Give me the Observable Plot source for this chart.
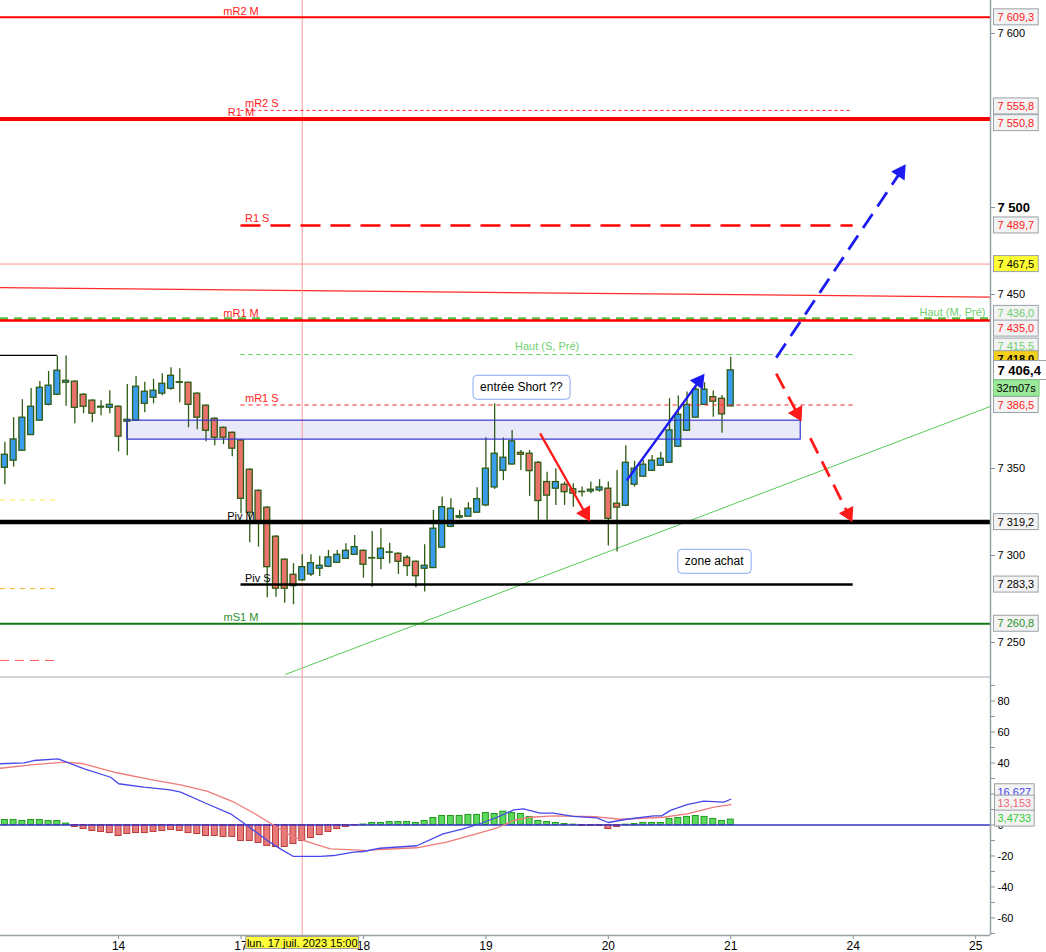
<!DOCTYPE html>
<html>
<head>
<meta charset="utf-8">
<script src="https://cdn.jsdelivr.net/npm/d3@7"></script>
<script src="https://cdn.jsdelivr.net/npm/@observablehq/plot@0.6"></script>
<style>
  body { margin: 0; background: #fff; }
  #chart svg { display: block; }
</style>
</head>
<body>
<div id="chart"></div>
<script>
// candles, one per hour, index 0 = 14 juil. 8:00
const first = -13
const opens  = [7350.4,7354.5,7360.2,7369.2,7377.5,7386.6,7392.4,7399.3,7399.9,7392.4,7389,7385.5,7384.9,
  7385.5,7376.9,7377.5,7387.2,7390.7,7393,7395.8,7399.6,7399.3,7393,7386.1,7378.6,7373.4,7370.5,
  7366.1,7349.3,7337.2,7327.5,7310.8,7297.6,7288.9,7285.7,7289.1,7292.4,7293.5,7295.8,7298.1,7300.4,
  7302.7,7298.5,7298.1,7301.8,7301,7298.7,7296.4,7292.4,7292.8,7304.5,7316.5,7321.7,7322.3,7324.6,
  7328.8,7339.1,7348.7,7352.3,7359,7358.5,7353.3,7342.2,7338.4,7340.7,7338.1,7336.4,7336.8,7337.4,
  7338.4,7329.8,7328.6,7340.7,7345.3,7348.7,7351.6,7353.3,7362.5,7371.7,7379.2,7386.6,7391,7390.1,
  7385.7]
const highs  = [7365.1,7379.2,7389.5,7396,7400,7405.8,7414.6,7414.6,7400.5,7393,7389.5,7389,7394.7,
  7386,7398.3,7402.9,7399.5,7401.2,7404.5,7407.9,7407.3,7399.5,7393.5,7386.5,7379,7373.8,7371,
  7366.5,7349.8,7337.6,7328,7311.5,7298,7295.3,7300.4,7300.4,7299.5,7302.9,7302.9,7306.8,7311.5,
  7303.2,7313.8,7315.4,7307.1,7301.5,7300,7296.8,7306.2,7325.9,7333.6,7332.6,7325.9,7330.3,7339,
  7367.7,7387.2,7367.5,7371.9,7360.4,7360.4,7354,7347.9,7349.9,7342.2,7341.2,7339.3,7342.2,7343.6,
  7342.2,7348.9,7363.1,7354.2,7354.6,7357.5,7359.4,7390.1,7391.6,7393.9,7396.8,7399.3,7394.5,7392,
  7414]
const lows   = [7340.6,7350.8,7360.2,7369,7377,7386,7392,7385.8,7375.7,7381.5,7376.3,7380.3,7381.5,
  7359.6,7357.3,7377,7382,7387.2,7391.8,7395,7387.8,7373.4,7372.3,7365.4,7363.1,7363.7,7356.8,
  7324,7307.3,7304.8,7275.7,7276,7272.6,7271.7,7285,7288,7288,7293,7295.5,7297.8,7300,
  7287,7281.8,7291.8,7295.3,7289.1,7288,7281.5,7279,7292.5,7304,7316,7321,7322,7324.3,
  7328,7338,7343,7352,7348.9,7334,7320.2,7320.2,7328.8,7328.8,7327.8,7333.6,7335.5,7336.4,
  7305.4,7302,7328,7339.3,7345,7348.5,7351.3,7353,7362,7371.3,7379,7386.3,7379.5,7370.3,
  7385.5]
const closes = [7357.9,7366.7,7379.2,7385.5,7396.4,7397.6,7406.2,7400.4,7384.9,7385.5,7381.5,7385,7386.6,
  7368.3,7378,7397,7394.1,7394.7,7398.7,7403.3,7399.3,7386.6,7379.2,7371.7,7367.7,7367.7,7361.4,
  7332.6,7324.6,7319.2,7293.3,7280.9,7280.9,7282.4,7293.3,7295.6,7294.1,7298.9,7300.4,7302.7,7304.8,
  7294.7,7298.3,7303.9,7301.6,7296.4,7293.9,7288.1,7294.1,7315.4,7327.8,7326.9,7322.6,7326.9,7332.4,
  7349.9,7358.5,7356.2,7365.6,7357.9,7348.5,7331.3,7334.4,7342.2,7336.4,7335.5,7336.6,7337.8,7339.1,
  7321.1,7327.5,7353.3,7349.9,7352.2,7354.5,7355.6,7371.9,7380.9,7386.6,7395.3,7395.3,7388.4,7381.1,
  7406.4]

// MACD histogram, one per candle
const macdHist = [3.2,3.2,2.6,3.2,3.2,2.6,2.6,0.9,-1.3,-2.6,-3.9,-4.5,-5.2,
  -7.1,-5.8,-5.2,-5.2,-4.5,-3.9,-3.2,-3.9,-5.2,-5.8,-7.1,-7.1,-7.7,-7.7,
  -10.3,-10.3,-11.6,-13.5,-14.2,-14.2,-12.3,-10.3,-8.4,-6.5,-4.5,-2.6,-1.3,-0.3,
  0.3,1.3,1.3,1.9,1.9,1.9,1.3,2.6,4.5,5.8,5.8,5.8,6.5,6.5,
  7.7,7.1,8.6,7.7,7.1,5.2,2.6,1.9,1.3,0.6,0.2,-0.6,-0.6,-0.6,
  -2.6,-1.3,0.2,0.6,1.3,1.3,1.3,3.9,4.5,5.2,5.8,5.2,3.9,2.6,
  3.47]
const macdLine = [[-13.5,39.5],[-10.8,40.1],[-9.7,41.6],[-6.9,42.7],[-4,36.3],[-0.9,30.8],[0,26.6],
  [2.9,24.4],[5.9,22.7],[7.1,21.2],[10.1,13.7],[12.8,7.2],[14.7,-0.3],[17,-10],[18.5,-15.4],
  [20,-20.3],[23.1,-20.3],[24.6,-19.7],[26.9,-17.5],[28,-17.1],[29.9,-15],[34.1,-13.4],[37.1,-5.7],
  [39.4,-2.5],[41.3,0.8],[43.3,5],[45.2,9.8],[46.3,10.4],[48.2,7.6],[49.7,7.6],[52,5.5],[54.7,4.6],
  [56,1.6],[58.1,3.7],[61.2,5.9],[62.1,5.9],[63.1,9.4],[65,13.2],[66.9,15.4],[69.2,14.7],[70,16.6]]
const signalLine = [[-13.5,36.6],[-9.7,39],[-6.1,40.5],[-4,39.5],[-0.2,33.7],[3.7,29.2],[7.1,25.9],
  [10.1,21.8],[13.2,14.7],[15.5,7.6],[17.8,-0.3],[20,-7.9],[22.3,-12.1],[24.2,-15.4],[26.9,-16],
  [28.4,-16.5],[29.9,-15.8],[34.1,-14.7],[37.5,-11.1],[40.5,-6.3],[43.3,-1.8],[45.2,2.9],[47.1,5],
  [49.7,5.9],[54.7,5.3],[57.4,3.7],[62.3,5],[65,7.2],[68.1,11.5],[70,13.2]]

// axes
const dayTicks = [0, 14, 28, 42, 56, 70, 84, 98]
const dayLabels = ["14", "17", "18", "19", "20", "21", "24", "25"]
const priceTicks = [7600, 7450, 7350, 7300, 7250]
const priceBold = [7500]
const macdTicks = [80, 60, 40, 0, -20, -40, -60]
const macdMinor = [90, 70, 50, 30, 20, 10, -10, -30, -50, -70]
const xView = [-13.5, 99.7]
const yPrice = [7230.46, 7618.97]
const yMacd = [-71.3, 95.8]

// pivot levels
const levelNames  = ["mR2 M", "mR2 S", "R1 M", "R1 S", "mR1 M", "mR1 S", "Piv M", "Piv S", "mS1 M", "Haut (M, Pré)", "Haut (S, Pré)"]
const levelValues = [7609.3, 7555.8, 7550.8, 7489.7, 7435.0, 7386.5, 7319.2, 7283.3, 7260.8, 7436.0, 7415.5]
const weekFrom = 14, weekTo = 84
const pinkLevel = 7467.5
const redTrend = [[-13.5, 7453.9], [99.7, 7448.5]]
const greenTrend = [[19.1, 7231.7], [99.7, 7385.7]]
const oldLevels = [7415, 7332, 7281, 7239.7]
const oldTo = -7
const zone = [{x1: 1, x2: 78, y1: 7366.6, y2: 7377.5}]
const crossI = 21
const crossLabel = "lun. 17 juil. 2023 15:00"

// arrows: from (i, price) to (i, price)
const solidArrows = [
  [48.2, 7370.2, 53.9, 7319.6],
  [58.1, 7343.1, 67.0, 7404.5]
]
const dashedArrows = [
  [75.2, 7413.7, 90.0, 7524.8],
  [75.2, 7404.5, 78.1, 7377.0],
  [79.1, 7367.5, 83.9, 7319.2]
]
const noteTexts = ["entrée Short ??", "zone achat"]
const noteX = [46.06, 68.1]
const noteY = [7396.6, 7296.6]

// right-hand value tags
const tagValues = [7609.3, 7555.8, 7550.8, 7489.7, 7467.5, 7436.0, 7435.0, 7415.5, 7418.0, 7406.4, 7386.5, 7319.2, 7283.3, 7260.8]
const timer = "32m07s"
const macdTagValues = [16.627, 13.153, 3.4733]
const macdTagTexts = ["16,627", "13,153", "3,4733"]

const W = 1046, MR = 56, H1 = 676, H2 = 276, MB2 = 17
const font = "'Liberation Sans', Arial, sans-serif"
const fmtPrice = v => d3.format(",.1f")(v).replace(",", " ").replace(".", ",")
const fmtInt = v => d3.format(",")(v).replace(",", " ")
const lv = Object.fromEntries(levelNames.map((n, k) => [n, levelValues[k]]))

const candles = opens.map((o, k) => ({i: first + k, open: o, high: highs[k], low: lows[k], close: closes[k]}))
const hist = macdHist.map((v, k) => ({i: first + k, v}))

// boxed text helper: the box is drawn behind each text after rendering
const boxes = []
function boxText(data, opts, box) {
  boxes.push(box)
  return Plot.text(data, {...opts, ariaDescription: "box" + (boxes.length - 1)})
}
function drawBoxes(svg) {
  boxes.forEach((b, k) => {
    svg.querySelectorAll(`g[aria-description="box${k}"] text`).forEach(t => {
      const bb = t.getBBox()
      const r = document.createElementNS("http://www.w3.org/2000/svg", "rect")
      r.setAttribute("x", bb.x - b.px)
      r.setAttribute("y", bb.y - b.py)
      r.setAttribute("width", bb.width + 2 * b.px + (b.extra || 0))
      r.setAttribute("height", bb.height + 2 * b.py)
      r.setAttribute("rx", b.rx || 0)
      r.setAttribute("fill", b.fill)
      r.setAttribute("stroke", b.stroke)
      r.setAttribute("stroke-width", 1)
      if (t.getAttribute("transform")) r.setAttribute("transform", t.getAttribute("transform"))
      t.parentNode.insertBefore(r, t)
    })
  })
}

// arrow heads as rotated triangles, placed in pixel space
const xs = d3.scaleLinear(xView, [0, W - MR])
const ys = d3.scaleLinear(yPrice, [H1, 0])
const headR = 6
const tipBack = 2 * Math.sqrt(Math.PI * headR * headR / (3 * Math.sqrt(3)))
const toRows = list => list.map(([x1, y1, x2, y2]) => {
  const dx = xs(x2) - xs(x1), dy = ys(y2) - ys(y1), len = Math.hypot(dx, dy)
  const ux = dx / len, uy = dy / len
  return {
    x1, y1, up: y2 > y1,
    hx: xs.invert(xs(x2) - ux * tipBack),
    hy: ys.invert(ys(y2) - uy * tipBack),
    rot: Math.atan2(ux, -uy) * 180 / Math.PI
  }
})
const solidRows = toRows(solidArrows)
const dashedRows = toRows(dashedArrows)
const arrowColor = d => d.up ? "#1c1cf0" : "#ff1a1a"

const tagText = {7406.4: "#000", 7467.5: "#000", 7418.0: "#000", 7319.2: "#000", 7283.3: "#000",
  7436.0: "#6fd06f", 7415.5: "#6fd06f", 7260.8: "#2b8f2b"}
const tagFill = {7467.5: "#ffff33", 7418.0: "#f5cf1a", 7406.4: "#ffffff"}
const tagDy = {7555.8: -4, 7550.8: 4, 7436.0: -5, 7435.0: 8, 7415.5: -8, 7418.0: 9}
const tagOrder = [7609.3, 7555.8, 7550.8, 7489.7, 7467.5, 7436.0, 7435.0, 7415.5, 7418.0, 7386.5, 7319.2, 7283.3, 7260.8, 7406.4]
  .filter(v => tagValues.includes(v))

const tagMarks = tagOrder.map(v => boxText([v], {
  y: d => d, text: fmtPrice, frameAnchor: "right", dx: 7, dy: tagDy[v] || 0, textAnchor: "start",
  fill: tagText[v] || "#ff1a1a", fontSize: v === 7406.4 ? 13 : 11,
  fontWeight: (v === 7406.4 || v === 7418.0) ? "bold" : "normal"
}, {px: 4, py: 2, fill: tagFill[v] || "#f3f3f3", stroke: "#98a2a8", extra: v === 7406.4 ? 6 : 0}))

const levelLabel = (name, opts) => Plot.text([name], {
  x: weekFrom, y: () => lv[name], text: d => d, dy: -7, fontSize: 11, ...opts
})

const price = Plot.plot({
  width: W, height: H1,
  marginLeft: 0, marginRight: MR, marginTop: 0, marginBottom: 0,
  style: {fontFamily: font, fontSize: "11px", background: "#fff", overflow: "visible"},
  x: {domain: xView, axis: null},
  y: {domain: yPrice, axis: null},
  marks: [
    Plot.rect(zone, {x1: "x1", x2: "x2", y1: "y1", y2: "y2", fill: "#e9e9f9"}),
    Plot.ruleY([pinkLevel], {stroke: "#ff9090", strokeWidth: 1}),
    Plot.line(redTrend, {x: d => d[0], y: d => d[1], stroke: "#ff2a2a", strokeWidth: 1.2}),
    Plot.line(greenTrend, {x: d => d[0], y: d => d[1], stroke: "#55cc55", strokeWidth: 1}),
    Plot.ruleY([oldLevels[0]], {x1: xView[0], x2: oldTo, stroke: "#000", strokeWidth: 1.3}),
    Plot.ruleY([oldLevels[1]], {x1: xView[0], x2: oldTo, stroke: "#f3f04a", strokeDasharray: "5,5"}),
    Plot.ruleY([oldLevels[2]], {x1: xView[0], x2: oldTo, stroke: "#f5b030", strokeDasharray: "5,5"}),
    Plot.ruleY([oldLevels[3]], {x1: xView[0], x2: oldTo, stroke: "#ff5555", strokeDasharray: "9,6"}),
    Plot.ruleX([crossI], {stroke: "#ff9a9a", strokeWidth: 1}),

    // candles
    Plot.ruleX(candles, {x: "i", y1: "low", y2: "high", stroke: "#2e5c12", strokeWidth: 1.3}),
    Plot.rect(candles, {
      x1: d => d.i - 0.34, x2: d => d.i + 0.34, y1: "open", y2: "close",
      fill: d => d.close > d.open + 0.3 ? "#3a9cec" : d.close < d.open - 0.3 ? "#e9726b" : "#2e5c12",
      stroke: "#2e5c12", strokeWidth: 1.3
    }),
    Plot.rect(zone, {x1: "x1", x2: "x2", y1: "y1", y2: "y2", fill: "none", stroke: "#3535d0", strokeWidth: 1.2}),

    // pivot levels
    Plot.ruleY([lv["Haut (M, Pré)"]], {stroke: "#55c444", strokeWidth: 3, strokeDasharray: "8,6"}),
    Plot.ruleY([lv["mR2 M"]], {stroke: "#ff0000", strokeWidth: 2}),
    Plot.ruleY([lv["R1 M"]], {stroke: "#ff0000", strokeWidth: 4}),
    Plot.ruleY([lv["mR1 M"]], {stroke: "#ff0000", strokeWidth: 2.5}),
    Plot.ruleY([lv["Piv M"]], {stroke: "#000", strokeWidth: 4.5}),
    Plot.ruleY([lv["mS1 M"]], {stroke: "#137a13", strokeWidth: 2}),
    Plot.ruleY([lv["mR2 S"]], {x1: weekFrom, x2: weekTo, stroke: "#ff2020", strokeWidth: 1, strokeDasharray: "3,3"}),
    Plot.ruleY([lv["R1 S"]], {x1: weekFrom, x2: weekTo, stroke: "#ff0000", strokeWidth: 2.5, strokeDasharray: "20,10"}),
    Plot.ruleY([lv["Haut (S, Pré)"]], {x1: weekFrom, x2: weekTo, stroke: "#55cc55", strokeWidth: 1, strokeDasharray: "4,4"}),
    Plot.ruleY([lv["mR1 S"]], {x1: weekFrom, x2: weekTo, stroke: "#ff2020", strokeWidth: 1, strokeDasharray: "4,4"}),
    Plot.ruleY([lv["Piv S"]], {x1: weekFrom, x2: weekTo, stroke: "#000", strokeWidth: 2.5}),

    // arrows
    Plot.link(solidRows, {x1: "x1", y1: "y1", x2: "hx", y2: "hy", stroke: arrowColor, strokeWidth: 2.3}),
    Plot.link(dashedRows, {x1: "x1", y1: "y1", x2: "hx", y2: "hy", stroke: arrowColor, strokeWidth: 2.8, strokeDasharray: "17,9"}),
    Plot.dot([...solidRows, ...dashedRows], {x: "hx", y: "hy", symbol: "triangle", r: headR, rotate: "rot", fill: arrowColor, stroke: "none"}),

    // level labels
    levelLabel("mR2 M", {fill: "#ff1a1a", dy: -6}),
    levelLabel("R1 M", {fill: "#ff1a1a"}),
    levelLabel("mR1 M", {fill: "#ff1a1a"}),
    levelLabel("Piv M", {fill: "#000", dy: -6}),
    levelLabel("mS1 M", {fill: "#2b8f2b", dy: -6}),
    levelLabel("mR2 S", {fill: "#ff1a1a", dx: 4, textAnchor: "start"}),
    levelLabel("R1 S", {fill: "#ff1a1a", dx: 4, textAnchor: "start"}),
    levelLabel("mR1 S", {fill: "#ff1a1a", dx: 4, textAnchor: "start"}),
    levelLabel("Piv S", {fill: "#000", dx: 4, textAnchor: "start", dy: -6}),
    levelLabel("Haut (S, Pré)", {x: (weekFrom + weekTo) / 2, fill: "#6fd06f", dy: -8}),
    Plot.text(["Haut (M, Pré)"], {y: () => lv["Haut (M, Pré)"], text: d => d, frameAnchor: "right", dx: -5, dy: -6, textAnchor: "end", fill: "#6fd06f", fontSize: 11}),

    // notes
    ...noteTexts.map((t, k) => boxText([t], {x: () => noteX[k], y: () => noteY[k], text: d => d, fontSize: 12, fill: "#000"},
      {px: 7, py: 5, rx: 4, fill: "#fff", stroke: "#88a8f0"})),

    // right axis
    Plot.ruleX([xView[1]], {stroke: "#98a2a8", strokeWidth: 1.5}),
    Plot.axisY(priceTicks, {anchor: "right", label: null, tickSize: 4, tickPadding: 3, tickFormat: fmtInt, stroke: "#8a949a", fill: "#000", fontSize: 11}),
    Plot.axisY(priceBold, {anchor: "right", label: null, tickSize: 4, tickPadding: 3, tickFormat: fmtInt, stroke: "#8a949a", fill: "#000", fontSize: 13, fontWeight: "bold"}),
    ...tagMarks,
    boxText([timer], {y: () => 7406.4, text: d => d, frameAnchor: "right", dx: 6, dy: 18, textAnchor: "start", fill: "#000", fontSize: 11},
      {px: 3, py: 2, fill: "#9be89b", stroke: "#7fcf7f"})
  ]
})

const macd = Plot.plot({
  width: W, height: H2,
  marginLeft: 0, marginRight: MR, marginTop: 0, marginBottom: MB2,
  style: {fontFamily: font, fontSize: "11px", background: "#fff", overflow: "visible"},
  x: {domain: xView, axis: null},
  y: {domain: yMacd, axis: null},
  marks: [
    Plot.ruleY([yMacd[1]], {stroke: "#a6aeb3", dy: 0.5}),
    Plot.ruleX([crossI], {stroke: "#ff9a9a", strokeWidth: 1}),
    Plot.rectY(hist, {
      x1: d => d.i - 0.34, x2: d => d.i + 0.34, y: "v",
      fill: d => d.v >= 0 ? "#5cd85c" : "#e97a7a",
      stroke: d => d.v >= 0 ? "#1f9a1f" : "#b83a3a", strokeWidth: 1
    }),
    Plot.ruleY([0], {stroke: "#3434c8", strokeWidth: 1.3}),
    Plot.line(signalLine, {x: d => d[0], y: d => d[1], stroke: "#ee7a7a", strokeWidth: 1.3}),
    Plot.line(macdLine, {x: d => d[0], y: d => d[1], stroke: "#4848ea", strokeWidth: 1.3}),
    Plot.ruleX([xView[1]], {stroke: "#98a2a8", strokeWidth: 1.5}),
    Plot.ruleY([yMacd[0]], {stroke: "#98a2a8", strokeWidth: 1.5}),
    Plot.axisY(macdMinor, {anchor: "right", label: null, tickSize: 4, tickFormat: () => "", stroke: "#8a949a"}),
    Plot.axisY(macdTicks, {anchor: "right", label: null, tickSize: 4, tickPadding: 3, tickFormat: d => String(d), stroke: "#8a949a", fill: "#000", fontSize: 11}),
    Plot.axisX(dayTicks, {anchor: "bottom", label: null, tickSize: 4, tickPadding: 2, tickFormat: d => dayLabels[dayTicks.indexOf(d)], stroke: "#8a949a", fill: "#000", fontSize: 12}),
    ...macdTagTexts.map((t, k) => boxText([t], {
      y: () => macdTagValues[k], text: d => d, frameAnchor: "right", dx: 7, dy: [-7, -1, -1][k], textAnchor: "start",
      fill: ["#4444ee", "#ee6677", "#33cc33"][k], fontSize: 11
    }, {px: 3, py: 2, fill: "#f3f3f3", stroke: "#98a2a8"})),
    boxText([crossLabel], {x: crossI, text: d => d, frameAnchor: "bottom", dy: 11, fill: "#000", fontSize: 11},
      {px: 1, py: 0, fill: "#ffff3a", stroke: "#a0a0a0"})
  ]
})

const root = document.getElementById("chart")
root.append(price, macd)
drawBoxes(price)
drawBoxes(macd)
</script>
</body>
</html>
